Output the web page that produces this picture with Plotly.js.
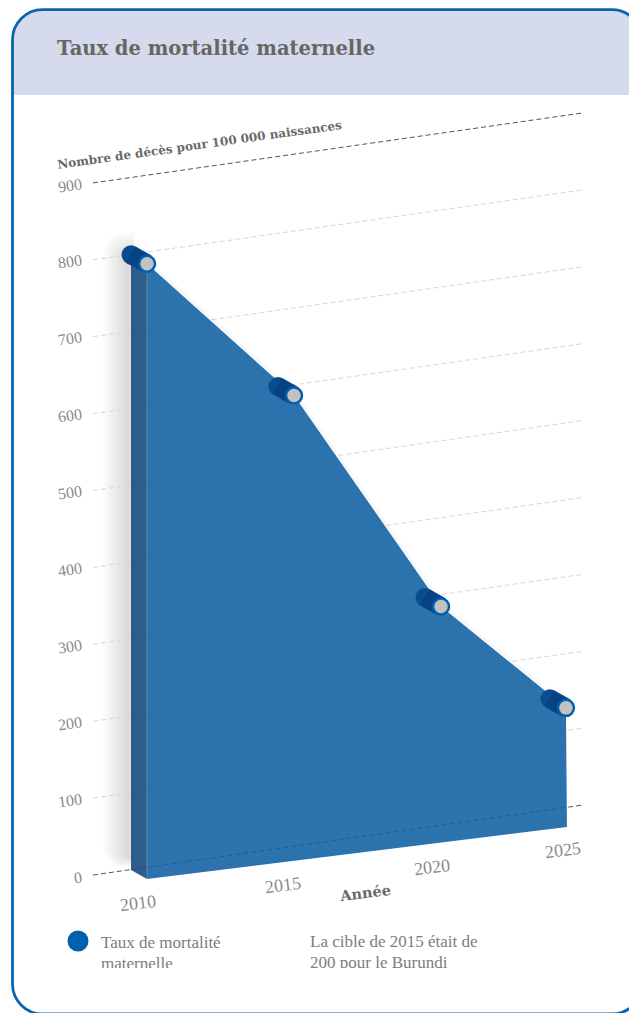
<!DOCTYPE html>
<html lang="fr">
<head>
<meta charset="utf-8">
<script src="https://cdn.plot.ly/plotly-3.0.1.min.js"></script>
<style>html,body{margin:0;padding:0;background:#fff;overflow:hidden}#chart{width:629px;height:1013px}</style>
</head>
<body>
<div id="chart"></div>
<script>
// ---- values ----
const chartTitle = 'Taux de mortalité maternelle';
const yTitle = 'Nombre de décès pour 100 000 naissances';
const xTitle = 'Année';
const seriesName = ['Taux de mortalité', 'maternelle'];
const noteText = ['La cible de 2015 était de', '200 pour le Burundi'];
const pointYears = [2010, 2015, 2020, 2024.25];
const mortality = [800, 605, 307, 155];
const yTicks = [0, 100, 200, 300, 400, 500, 600, 700, 800, 900];
const xTickLabels = ['2010', '2015', '2020', '2025'];
const xTickPlaces = [2009.7, 2014.63, 2019.7, 2024.15];

// ---- tilted projection of the chart plane ----
const pxPerYear = 29.4, pxPerUnit = 0.769;
const frontX = yr => 147 + (yr - 2010) * pxPerYear;
const frontY = (yr, v) => 879 - 0.124 * (frontX(yr) - 147) - v * pxPerUnit;
const depth = [-16, -9];
const gridY = (x, v) => 875 - (x - 93) / 7 - v * pxPerUnit;
const gridX = [93, 583];

const BLUE = '#0060ad';
const traces = [];

// gridlines
yTicks.forEach(v => {
  const strong = v === 0 || v === yTicks[yTicks.length - 1];
  traces.push({
    x: gridX, y: gridX.map(x => gridY(x, v)), mode: 'lines', hoverinfo: 'skip', showlegend: false,
    line: {color: strong ? '#555555' : '#d6d6d6', width: 1, dash: '5px,3px'}
  });
});

// pale halo along the top edge
traces.push({
  x: pointYears.map(frontX), y: pointYears.map((yr, i) => frontY(yr, mortality[i]) - 1),
  mode: 'lines', hoverinfo: 'skip', showlegend: false,
  line: {color: 'rgba(150,165,180,0.08)', width: 6}
});

// side wall
const y0 = pointYears[0], v0 = mortality[0];
traces.push({
  x: [frontX(y0), frontX(y0) + depth[0], frontX(y0) + depth[0], frontX(y0)],
  y: [frontY(y0, v0), frontY(y0, v0) + depth[1], frontY(y0, 0) + depth[1], frontY(y0, 0)],
  mode: 'lines', fill: 'toself', fillcolor: 'rgba(24,76,128,0.90)', line: {width: 0},
  hoverinfo: 'skip', showlegend: false
});

// front face of the area
const lastYear = pointYears[pointYears.length - 1];
traces.push({
  name: seriesName.join(' '),
  x: pointYears.map(frontX).concat([frontX(lastYear) + 1, frontX(y0)]),
  y: pointYears.map((yr, i) => frontY(yr, mortality[i])).concat([frontY(lastYear, 0), frontY(y0, 0)]),
  mode: 'lines', fill: 'toself', fillcolor: 'rgba(15,95,160,0.88)', line: {width: 0},
  hoverinfo: 'skip', showlegend: false
});
// thin light seam between wall and face
traces.push({
  x: [frontX(y0), frontX(y0)], y: [frontY(y0, v0), frontY(y0, 0)], mode: 'lines',
  line: {color: 'rgba(255,255,255,0.22)', width: 1}, hoverinfo: 'skip', showlegend: false
});

// cylinders at each point
pointYears.forEach((yr, i) => {
  const fx = frontX(yr), fy = frontY(yr, mortality[i]);
  const bx = fx + depth[0], by = fy + depth[1];
  traces.push({x: [bx], y: [by], mode: 'markers', marker: {size: 19, color: '#0a4c90', line: {width: 0}}, hoverinfo: 'skip', showlegend: false});
  traces.push({x: [bx, fx], y: [by, fy], mode: 'lines', line: {color: '#0a4c90', width: 19}, hoverinfo: 'skip', showlegend: false});
  traces.push({x: [bx, fx], y: [by, fy], mode: 'lines', line: {color: '#053a75', width: 17, dash: '1px,1px'}, hoverinfo: 'skip', showlegend: false});
  traces.push({x: [fx], y: [fy], mode: 'markers', marker: {size: 16, color: '#c2c2c2', line: {color: BLUE, width: 2.5}}, hoverinfo: 'skip', showlegend: false});
});

// legend marker
traces.push({x: [78], y: [941], mode: 'markers', marker: {size: 21, color: BLUE}, hoverinfo: 'skip', showlegend: false});

// legend and note text, clipped at the foot of their box
const textFont = {family: '"Liberation Serif", serif', size: 17, color: '#7d7d7d'};
traces.push({
  x: [101, 101, 310, 310], y: [944, 964.5, 943, 963.5], yaxis: 'y2',
  mode: 'text', text: [seriesName[0], seriesName[1], noteText[0], noteText[1]],
  textposition: 'middle right', textfont: textFont, cliponaxis: true, hoverinfo: 'skip', showlegend: false
});

// ---- decoration ----
const shapes = [];
const frame = {l: 12.5, t: 9.7, r: 642, b: 1014, rad: 30};
const k = frame.rad * 0.45;
shapes.push({
  type: 'path', xref: 'x', yref: 'y', layer: 'below', line: {width: 0}, fillcolor: '#d5daec',
  path: `M${frame.l},95 L${frame.l},${frame.t + frame.rad} C${frame.l},${frame.t + k} ${frame.l + k},${frame.t} ${frame.l + frame.rad},${frame.t} L${frame.r - frame.rad},${frame.t} C${frame.r - k},${frame.t} ${frame.r},${frame.t + k} ${frame.r},${frame.t + frame.rad} L${frame.r},95 Z`
});
// soft shadow behind the wall
for (let i = 0; i < 12; i++) {
  const l = 125 - 2 * i, t = 254 - 2 * i, r = 134, b = 858 + 0.9 * i, c = 4 + 2 * i;
  shapes.push({
    type: 'path', xref: 'x', yref: 'y', layer: 'below', line: {width: 0}, fillcolor: 'rgba(45,70,90,0.016)',
    path: `M${l},${t + c} Q${l},${t} ${l + c},${t} L${r},${t} L${r},${b} L${l + c},${b} Q${l},${b} ${l},${b - c} Z`
  });
}
// rounded frame
shapes.push({
  type: 'path', xref: 'x', yref: 'y', layer: 'above', fillcolor: 'rgba(0,0,0,0)', line: {color: '#0a64ad', width: 2.8},
  path: `M${frame.l + frame.rad},${frame.t} L${frame.r - frame.rad},${frame.t} C${frame.r - k},${frame.t} ${frame.r},${frame.t + k} ${frame.r},${frame.t + frame.rad} L${frame.r},${frame.b - frame.rad} C${frame.r},${frame.b - k} ${frame.r - k},${frame.b} ${frame.r - frame.rad},${frame.b} L${frame.l + frame.rad},${frame.b} C${frame.l + k},${frame.b} ${frame.l},${frame.b - k} ${frame.l},${frame.b - frame.rad} L${frame.l},${frame.t + frame.rad} C${frame.l},${frame.t + k} ${frame.l + k},${frame.t} ${frame.l + frame.rad},${frame.t} Z`
});

// ---- tick labels and axis titles ----
const annotations = [];
const tickFont = {family: '"Liberation Serif", serif', size: 16, color: '#8a8a8a'};
yTicks.forEach(v => {
  annotations.push({
    xref: 'x', yref: 'y', x: 85, y: gridY(85, v) + 1, text: String(v), showarrow: false,
    xanchor: 'right', yanchor: 'middle', textangle: -8, font: tickFont
  });
});
xTickLabels.forEach((t, i) => {
  const yr = xTickPlaces[i];
  annotations.push({
    xref: 'x', yref: 'y', x: frontX(yr), y: frontY(yr, 0) + 23, text: t, showarrow: false,
    xanchor: 'center', yanchor: 'middle', textangle: -7, font: {family: tickFont.family, size: 18, color: '#8a8a8a'}
  });
});
const boldFont = {family: '"DejaVu Serif", serif', color: '#696969'};
annotations.push({
  xref: 'x', yref: 'y', x: 199, y: 145, text: '<b>' + yTitle + '</b>', showarrow: false,
  xanchor: 'center', yanchor: 'middle', textangle: -8, font: Object.assign({}, boldFont, {size: 12})
});
annotations.push({
  xref: 'x', yref: 'y', x: 365, y: 892, text: '<b>' + xTitle + '</b>', showarrow: false,
  xanchor: 'center', yanchor: 'middle', textangle: -7, font: Object.assign({}, boldFont, {size: 14.5})
});

const layout = {
  width: 629, height: 1013,
  margin: {l: 0, r: 0, t: 0, b: 0, pad: 0},
  paper_bgcolor: '#ffffff', plot_bgcolor: 'rgba(0,0,0,0)',
  showlegend: false,
  title: {
    text: '<b>' + chartTitle + '</b>', xref: 'paper', yref: 'paper', x: 57 / 629, xanchor: 'left',
    y: 1 - 48 / 1013, yanchor: 'middle', pad: {l: 0, r: 0, t: 0, b: 0},
    font: {family: boldFont.family, size: 19.5, color: '#666666'}
  },
  xaxis: {range: [0, 629], domain: [0, 1], visible: false, fixedrange: true},
  yaxis: {range: [1013, 0], domain: [0, 1], visible: false, fixedrange: true},
  yaxis2: {range: [968, 0], domain: [45 / 1013, 1], visible: false, fixedrange: true, anchor: 'x'},
  shapes: shapes,
  annotations: annotations
};

Plotly.newPlot('chart', traces, layout, {displayModeBar: false, staticPlot: true});
</script>
</body>
</html>
